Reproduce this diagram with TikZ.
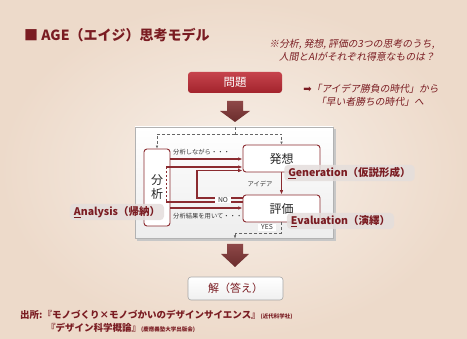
\documentclass[tikz,border=0pt]{standalone}
\usepackage{fontspec}
\setmainfont{Noto Sans CJK JP}
\newfontfamily\slfont{Noto Sans CJK JP}[FakeSlant=0.18]
\newfontfamily\djv{DejaVu Sans}
\usetikzlibrary{arrows.meta,calc}
\definecolor{bgin}{HTML}{F8F0E9}
\definecolor{bgout}{HTML}{EDDACA}
\definecolor{ttl}{HTML}{7A1C22}
\definecolor{lnc}{HTML}{8B2B30}
\definecolor{tagbg}{HTML}{E4DEDC}
\definecolor{monA}{HTML}{C6444D}
\definecolor{monB}{HTML}{A2232C}
\definecolor{arrA}{HTML}{8E4848}
\definecolor{arrB}{HTML}{6A2C2C}
\begin{document}
\begin{tikzpicture}[x=1pt,y=-1pt,
  dr/.style={draw=lnc, line width=1.2pt},
  arr/.style={dr, -{Latex[length=4.5pt,width=3.6pt]}},
  dsh/.style={draw=black!60, line width=0.5pt, densely dashed},
  dsharr/.style={dsh, -{Latex[length=3pt,width=2.6pt]}},
  inbox/.style={draw=lnc, line width=0.9pt, rounded corners=3pt, fill=white, text=black!85, font=\fontsize{12}{13}\selectfont},
  lab/.style={font=\fontsize{6.3}{7}\selectfont, text=black!80, inner sep=1pt},
  tag/.style={fill=tagbg, fill opacity=0.85, text opacity=1, rounded corners=4pt, text=ttl, font=\bfseries\fontsize{10.5}{12}\selectfont, inner xsep=4pt, inner ysep=2.5pt},
  note/.style={text=ttl, font=\slfont\fontsize{9.8}{11}\selectfont, inner sep=0},
]
\useasboundingbox (0,0) rectangle (467,339);
\shade[inner color=bgin, outer color=bgout] (0,0) rectangle (467,339);

% title
\node[anchor=west, text=ttl, font=\bfseries\fontsize{14}{16}\selectfont, inner sep=0] (title) at (24,35) {■ AGE（エイジ）思考モデル};

% notes
\node[note] (n1) at (352,44) {※分析, 発想, 評価の3つの思考のうち,};
\node[note] (n2) at (357,57) {人間とAIがそれぞれ得意なものは？};
\node[note] (n3) at (371,89) {{\djv\fontsize{10}{11}\selectfont ➡}「アイデア勝負の時代」から};
\node[note] (n4) at (370,102) {「早い者勝ちの時代」へ};

% problem box
\node[rounded corners=3pt, top color=monA, bottom color=monB, minimum width=94pt, minimum height=21pt, text=white, font=\fontsize{11.5}{12}\selectfont] (mon) at (235,82.5) {問題};

% big arrow 1
\shade[top color=arrA, bottom color=arrB] (227,101) -- (243,101) -- (243,111) -- (250,111) -- (235,122) -- (220,111) -- (227,111) -- cycle;

% panel
\fill[black!22] (137,129.5) rectangle (336,241);
\shade[top color=white, bottom color=white!93!black, draw=black!30, line width=0.5pt] (135,127) rectangle (333,238);

% inner boxes
\node[inbox, minimum width=26pt, minimum height=77pt, align=center, inner sep=0, font=\fontsize{12}{14}\selectfont] (bun) at (157,187.5) {分\\析};
\node[inbox, minimum width=77pt, minimum height=27pt] (hatsu) at (281.5,158.5) {発想};
\node[inbox, minimum width=77pt, minimum height=27pt] (hyo) at (281.5,208.5) {評価};

% dashed input
\coordinate (tin) at (235,127);
\coordinate (tsplit) at (235,134);
\draw[dsh] (tin) -- (tsplit);
\draw[dsharr] (tsplit) -| (bun.north);
\draw[dsharr] (tsplit) -| (hatsu.north);

% dashed output
\coordinate (bmerge) at (235,233);
\coordinate (bout) at (235,238.5);
\draw[dsh] (hyo.south) |- (bmerge);
\draw[dsharr] (bmerge) -- (bout);
\node[lab, fill=white, font=\fontsize{6.8}{7}\selectfont, inner xsep=3pt] (yes) at (267,227.5) {YES};

% analysis connectors
\coordinate (dtop) at (166,167);
\coordinate (dbot) at (166,202);
\draw[draw=lnc, line width=0.9pt, dashed, dash pattern=on 2.5pt off 1.5pt] (dtop) -- (dbot);
\draw[arr] (bun.east |- 0,159) -- (hatsu.west |- 0,159);
\draw[arr] (dtop) -- (hatsu.west |- dtop);
\draw[dr] (dbot) -- (hyo.west |- dbot);
\coordinate (nol) at (197,198);
\draw[arr] (hyo.west |- nol) -- (nol) -- (197,170.5) -- (hatsu.west |- 0,170.5);
\draw[arr] (bun.east |- 0,208) -- (hyo.west |- 0,208);
\draw[arr] (hatsu.south) -- (hyo.north);

% labels
\node[lab, anchor=west] (l1) at (172,152.5) {分析しながら・・・};
\node[lab, anchor=west] (l2) at (172,216.5) {分析結果を用いて・・・};
\node[lab] (l3) at (260,184) {アイデア};
\node[lab, fill=white, font=\fontsize{6.8}{7}\selectfont, inner xsep=3pt, inner ysep=0.5pt] (no) at (223,200) {NO};

% tags
\node[tag] (gen) at (349.5,173) {\underline{G}eneration（仮説形成）};
\node[tag] (eva) at (340.5,221) {\underline{E}valuation（演繹）};
\node[tag] (ana) at (117,212) {\underline{A}nalysis（帰納）};

% big arrow 2
\shade[top color=arrA, bottom color=arrB] (227,244) -- (243,244) -- (243,254) -- (249,254) -- (235,267) -- (221,254) -- (227,254) -- cycle;

% answer box
\node[rounded corners=3pt, draw=black!35, line width=0.6pt, top color=white, bottom color=white!94!black, minimum width=95pt, minimum height=23pt, text=ttl, font=\fontsize{11}{12}\selectfont] (kai) at (235.5,288.5) {解（答え）};

% source
\node[anchor=west, text=ttl, font=\bfseries\fontsize{9.5}{11}\selectfont, inner sep=0] (src1) at (20,315) {出所:『モノづくり×モノづかいのデザインサイエンス』{\fontsize{5.5}{6}\selectfont(近代科学社)}};
\node[anchor=west, text=ttl, font=\bfseries\fontsize{9.5}{11}\selectfont, inner sep=0] (src2) at (46,328) {『デザイン科学概論』{\fontsize{5.5}{6}\selectfont(慶應義塾大学出版会)}};
\end{tikzpicture}
\end{document}
